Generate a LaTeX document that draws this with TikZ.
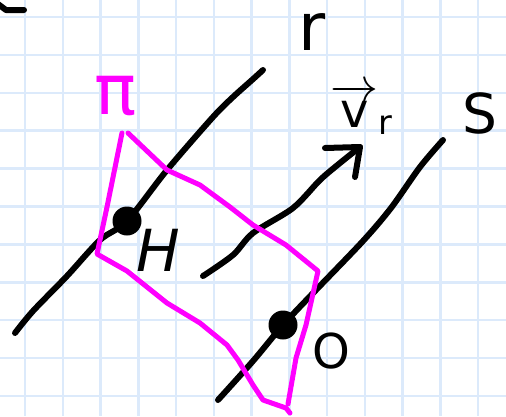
\documentclass[tikz,border=0pt]{standalone}
\usepackage{fix-cm}
\usepackage{fontspec}
\setsansfont{DejaVu Sans}
\usepackage{tikz}
\usetikzlibrary{positioning,calc}
\definecolor{racskek}{HTML}{DCEAFB}
\definecolor{lila}{HTML}{FF00FF}
\newcommand{\betu}[1]{\fontsize{#1}{#1}\selectfont}
\tikzset{
  racs/.style={draw=racskek,line width=2.5pt},
  egyenes/.style={draw,line width=6pt,line cap=round,line join=round},
  sik/.style={draw=lila,line width=5pt,line cap=round,line join=round},
  vektor/.style={draw,line width=6pt,line cap=round,line join=round},
  pont/.style={circle,fill,inner sep=0pt,minimum size=29pt},
  cimke/.style={font=\sffamily,inner sep=0pt,anchor=base},
}
\begin{document}
\begin{tikzpicture}[x=1pt,y=-1pt]
  \useasboundingbox (0,0) rectangle (506,416);
  \clip (0,0) rectangle (506,416);
  \fill[white] (0,0) rectangle (506,416);
  % racs
  \foreach \i in {0,...,12} \draw[racs] ({25+37.75*\i},0) -- ({25+37.75*\i},416);
  \foreach \j in {0,...,10} \draw[racs] (0,{17+37.9*\j}) -- (506,{17+37.9*\j});
  % pontok
  \node[pont] (H) at (127,221) {};
  \node[pont] (O) at (283,325) {};
  % egyenesek r es s
  \draw[egyenes] plot[smooth,tension=0.5] coordinates {(15,333) (33,311) (67,276) (100,240) (H.center)
    (167,170) (213,117) (233,97) (252,80) (263,70)};
  \draw[egyenes] plot[smooth,tension=0.5] coordinates {(218,400) (253,361) (O.center) (316,290)
    (363,241) (391,208) (420,167) (443,140)};
  \draw[egyenes] (-2,4) -- (6,10) -- (24,10);
  % vektor
  \coordinate (vtalp) at (203,276);
  \coordinate (vcsucs) at (360,147);
  \draw[vektor] plot[smooth,tension=0.5] coordinates {(vtalp) (233,255) (253,233) (293,208) (320,180)
    (340,163) (vcsucs)};
  \draw[vektor] (325,148) -- (vcsucs) -- (355,177);
  % sik
  \draw[sik] (122,133) -- (107,207) -- (97,254) -- (127,271) -- (167,303) -- (200,323) -- (227,345)
    -- (238,360) -- (253,385) -- (263,400) -- (286,408) -- (290,413);
  \draw[sik] (128,133) -- (167,170) -- (200,185) -- (230,207) -- (253,225) -- (286,245) -- (318,271)
    -- (306,325) -- (296,358) -- (288,404);
  % cimkek
  \node[cimke] (rcimke) at (312,50) {\betu{66}r};
  \node[cimke] (scimke) at (480,133) {\betu{55}S};
  \node[cimke] (vcimke) at (362,127) {\betu{48}$\overrightarrow{\mathsf{v}}_{\mathsf{r}}$};
  \node[cimke,font=\sffamily\itshape] (hcimke) at (158,271) {\betu{58}H};
  \node[cimke] (ocimke) at (331,368) {\betu{48}O};
  \node[cimke,text=lila] (picimke) at (116,114) {\betu{70}π};
\end{tikzpicture}
\end{document}
